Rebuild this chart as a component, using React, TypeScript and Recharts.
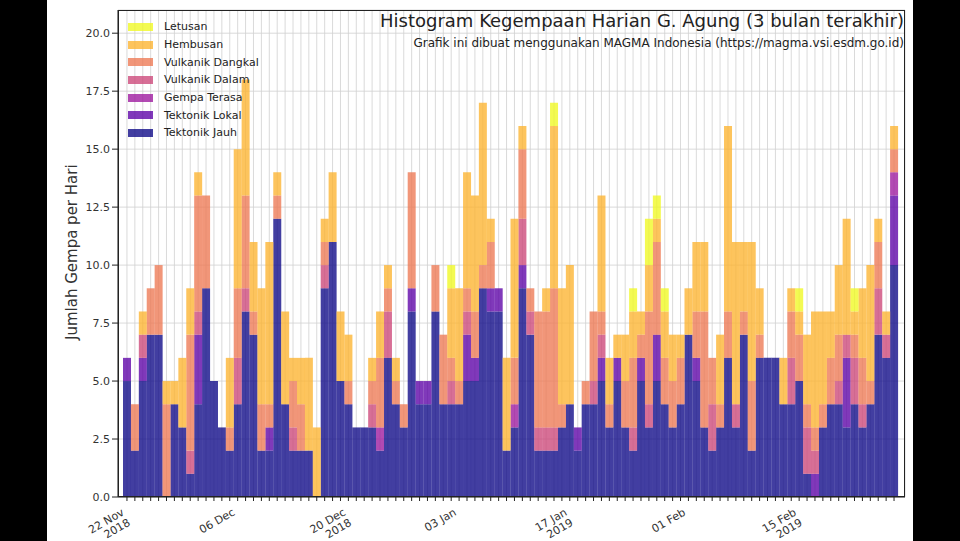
import React from "react";
import { Bar, BarChart, CartesianGrid, XAxis, YAxis } from "recharts";

// bottom -> top stacking order
const seriesNames = ["Tektonik Jauh", "Tektonik Lokal", "Gempa Terasa", "Vulkanik Dalam", "Vulkanik Dangkal", "Hembusan", "Letusan"];
const seriesColors = ["#0d0887", "#5c01a6", "#9c179e", "#cc4778", "#ed7953", "#fdb42f", "#f0f921"];

// per day: [TJ, TL, GT, VDl, VDk, H, L]
const dailyCounts: number[][] = [
    [5, 1, 0, 0, 0, 0, 0], [2, 0, 0, 0, 2, 0, 0], [5, 1, 0, 1, 0, 1, 0], [7, 0, 0, 0, 2, 0, 0],
    [7, 0, 0, 0, 3, 0, 0], [0, 0, 0, 0, 4, 1, 0], [4, 0, 0, 0, 0, 1, 0], [3, 0, 0, 0, 0, 3, 0],
    [1, 0, 0, 1, 5, 2, 0], [4, 3, 0, 1, 5, 1, 0], [9, 0, 0, 0, 4, 0, 0], [5, 0, 0, 0, 0, 0, 0],
    [3, 0, 0, 0, 0, 0, 0], [2, 0, 0, 0, 1, 3, 0], [4, 0, 0, 2, 3, 6, 0], [8, 0, 0, 1, 4, 5, 0],
    [7, 0, 0, 0, 1, 3, 0], [2, 0, 0, 0, 2, 5, 0], [2, 1, 0, 0, 1, 7, 0], [12, 0, 0, 0, 1, 1, 0],
    [4, 0, 0, 0, 0, 4, 0], [2, 0, 0, 1, 2, 1, 0],
    [2, 0, 0, 0, 2, 2, 0], [2, 0, 0, 0, 0, 4, 0], [0, 0, 0, 0, 0, 3, 0], [9, 0, 0, 1, 1, 1, 0],
    [11, 0, 0, 0, 0, 3, 0], [5, 0, 0, 0, 0, 3, 0], [4, 0, 0, 0, 1, 2, 0], [3, 0, 0, 0, 0, 0, 0],
    [3, 0, 0, 0, 0, 0, 0], [3, 0, 0, 1, 1, 1, 0], [2, 0, 1, 0, 3, 2, 0], [6, 0, 0, 2, 1, 1, 0],
    [4, 0, 0, 0, 1, 1, 0], [3, 0, 0, 0, 1, 0, 0], [8, 1, 0, 0, 5, 0, 0], [4, 1, 0, 0, 0, 0, 0],
    [4, 1, 0, 0, 0, 0, 0], [8, 0, 0, 0, 2, 0, 0], [4, 0, 0, 0, 3, 0, 0], [4, 0, 0, 1, 1, 3, 1],
    [4, 0, 0, 0, 1, 4, 0], [5, 2, 0, 1, 1, 5, 0], [5, 1, 0, 0, 2, 5, 0], [9, 0, 0, 0, 1, 7, 0],
    [8, 1, 0, 0, 2, 1, 0],
    [8, 1, 0, 0, 0, 0, 0], [2, 0, 0, 0, 0, 4, 0], [3, 0, 1, 0, 2, 6, 0], [9, 1, 0, 2, 3, 1, 0],
    [7, 0, 0, 1, 1, 0, 0], [2, 0, 0, 1, 5, 0, 0], [2, 0, 0, 1, 5, 1, 0], [2, 0, 0, 1, 6, 7, 1],
    [3, 0, 0, 0, 1, 5, 0], [4, 0, 0, 0, 0, 6, 0], [2, 1, 0, 0, 0, 0, 0], [4, 0, 0, 0, 1, 0, 0],
    [4, 0, 0, 1, 3, 0, 0], [5, 1, 0, 1, 1, 5, 0], [3, 0, 0, 0, 1, 2, 0], [5, 1, 0, 0, 0, 1, 0],
    [3, 0, 0, 0, 2, 2, 0], [2, 0, 0, 1, 3, 2, 1], [5, 1, 0, 0, 1, 1, 0], [3, 0, 0, 1, 4, 2, 2],
    [5, 2, 0, 0, 4, 1, 1], [4, 0, 0, 0, 2, 2, 1], [3, 0, 0, 0, 2, 2, 0], [4, 0, 0, 0, 2, 1, 0],
    [7, 0, 0, 0, 0, 2, 0], [5, 1, 0, 0, 2, 3, 0], [3, 0, 0, 0, 5, 3, 0],
    [2, 0, 0, 2, 2, 0, 0], [3, 0, 0, 0, 1, 3, 0], [6, 0, 0, 0, 2, 8, 0], [3, 0, 0, 1, 0, 7, 0],
    [7, 0, 0, 0, 1, 3, 0], [2, 0, 0, 0, 3, 6, 0], [6, 0, 0, 0, 1, 2, 0], [6, 0, 0, 0, 0, 0, 0],
    [6, 0, 0, 0, 0, 0, 0], [4, 0, 0, 0, 0, 2, 0], [4, 0, 0, 2, 2, 1, 0], [5, 0, 0, 0, 2, 1, 1],
    [1, 0, 0, 2, 1, 3, 0], [0, 1, 0, 1, 1, 5, 0], [3, 0, 0, 0, 1, 4, 0], [4, 0, 0, 0, 2, 2, 0],
    [4, 0, 0, 1, 2, 3, 0], [3, 3, 0, 1, 0, 5, 0], [4, 0, 0, 2, 1, 1, 1], [3, 0, 0, 1, 2, 3, 0],
    [4, 0, 0, 0, 1, 5, 0], [7, 0, 0, 2, 2, 1, 0], [6, 0, 0, 1, 0, 1, 0], [10, 3, 1, 0, 1, 1, 0],
];

const tickIndices = [0, 14, 28, 42, 56, 71, 85];
const tickLabels = [["22 Nov", "2018"], ["06 Dec"], ["20 Dec", "2018"], ["03 Jan"], ["17 Jan", "2019"], ["01 Feb"], ["15 Feb", "2019"]];
const yTicks = [0, 2.5, 5, 7.5, 10, 12.5, 15, 17.5, 20];

const FONT = "DejaVu Sans, sans-serif";

const chartData = dailyCounts.map((row, i) => {
    const d: Record<string, number> = { day: i };
    seriesNames.forEach((name, k) => (d[name] = row[k]));
    return d;
});

const DateTick = (props: any) => {
    const { x, y, payload } = props;
    const k = tickIndices.indexOf(payload.value);
    if (k < 0) return null;
    return (
        <g transform={`translate(${x - 4},${y + 8}) rotate(-30)`}>
            <text textAnchor="end" fontSize={11} fill="#333" fontFamily={FONT}>
                {tickLabels[k].map((t, j) => (
                    <tspan key={j} x={0} dy={j === 0 ? 4 : 12}>{t}</tspan>
                ))}
            </text>
        </g>
    );
};

const legendOrder = [6, 5, 4, 3, 2, 1, 0];

export default function App() {
    return (
        <div style={{ position: "absolute", left: 0, top: 0, width: 960, height: 541, background: "#fff", fontFamily: FONT }}>
            <BarChart
                width={960}
                height={541}
                data={chartData}
                margin={{ top: 10, right: 55, bottom: 14, left: 78 }}
                barCategoryGap={0}
            >
                <CartesianGrid stroke="#d0d0d0" strokeWidth={0.8} />
                <XAxis
                    dataKey="day"
                    interval={0}
                    height={30}
                    padding={{ left: 5, right: 7 }}
                    tick={<DateTick />}
                    tickSize={4}
                    stroke="#222"
                />
                <YAxis
                    width={40}
                    domain={[0, 21]}
                    ticks={yTicks}
                    tickFormatter={(v: number) => v.toFixed(1)}
                    tick={{ fontSize: 11, fill: "#333", fontFamily: FONT }}
                    stroke="#222"
                    allowDataOverflow
                />
                {seriesNames.map((name, k) => (
                    <Bar key={name} dataKey={name} stackId="a" fill={seriesColors[k]} fillOpacity={0.78} isAnimationActive={false} />
                ))}
            </BarChart>
            <div style={{ position: "absolute", left: 118, top: 10, width: 787, height: 487, border: "1px solid #222", boxSizing: "border-box", pointerEvents: "none" }} />
            <div style={{ position: "absolute", left: 63, top: 340, transform: "rotate(-90deg)", transformOrigin: "left top", fontSize: 15, color: "#333", whiteSpace: "nowrap" }}>
                Jumlah Gempa per Hari
            </div>
            <div style={{ position: "absolute", right: 56, top: 10, fontSize: 18, color: "#222", whiteSpace: "nowrap" }}>
                Histogram Kegempaan Harian G. Agung (3 bulan terakhir)
            </div>
            <div style={{ position: "absolute", right: 56, top: 36, fontSize: 12, color: "#222", whiteSpace: "nowrap" }}>
                Grafik ini dibuat menggunakan MAGMA Indonesia (https://magma.vsi.esdm.go.id)
            </div>
            <div style={{ position: "absolute", left: 128, top: 18 }}>
                {legendOrder.map((k) => (
                    <div key={k} style={{ display: "flex", alignItems: "center", height: 17.7 }}>
                        <div style={{ width: 25, height: 8, background: seriesColors[k], opacity: 0.78, marginRight: 11 }} />
                        <span style={{ fontSize: 11, color: "#222" }}>{seriesNames[k]}</span>
                    </div>
                ))}
            </div>
            <div style={{ position: "absolute", left: 0, top: 0, width: 47, height: 541, background: "#000" }} />
            <div style={{ position: "absolute", left: 913, top: 0, width: 47, height: 541, background: "#000" }} />
        </div>
    );
}
